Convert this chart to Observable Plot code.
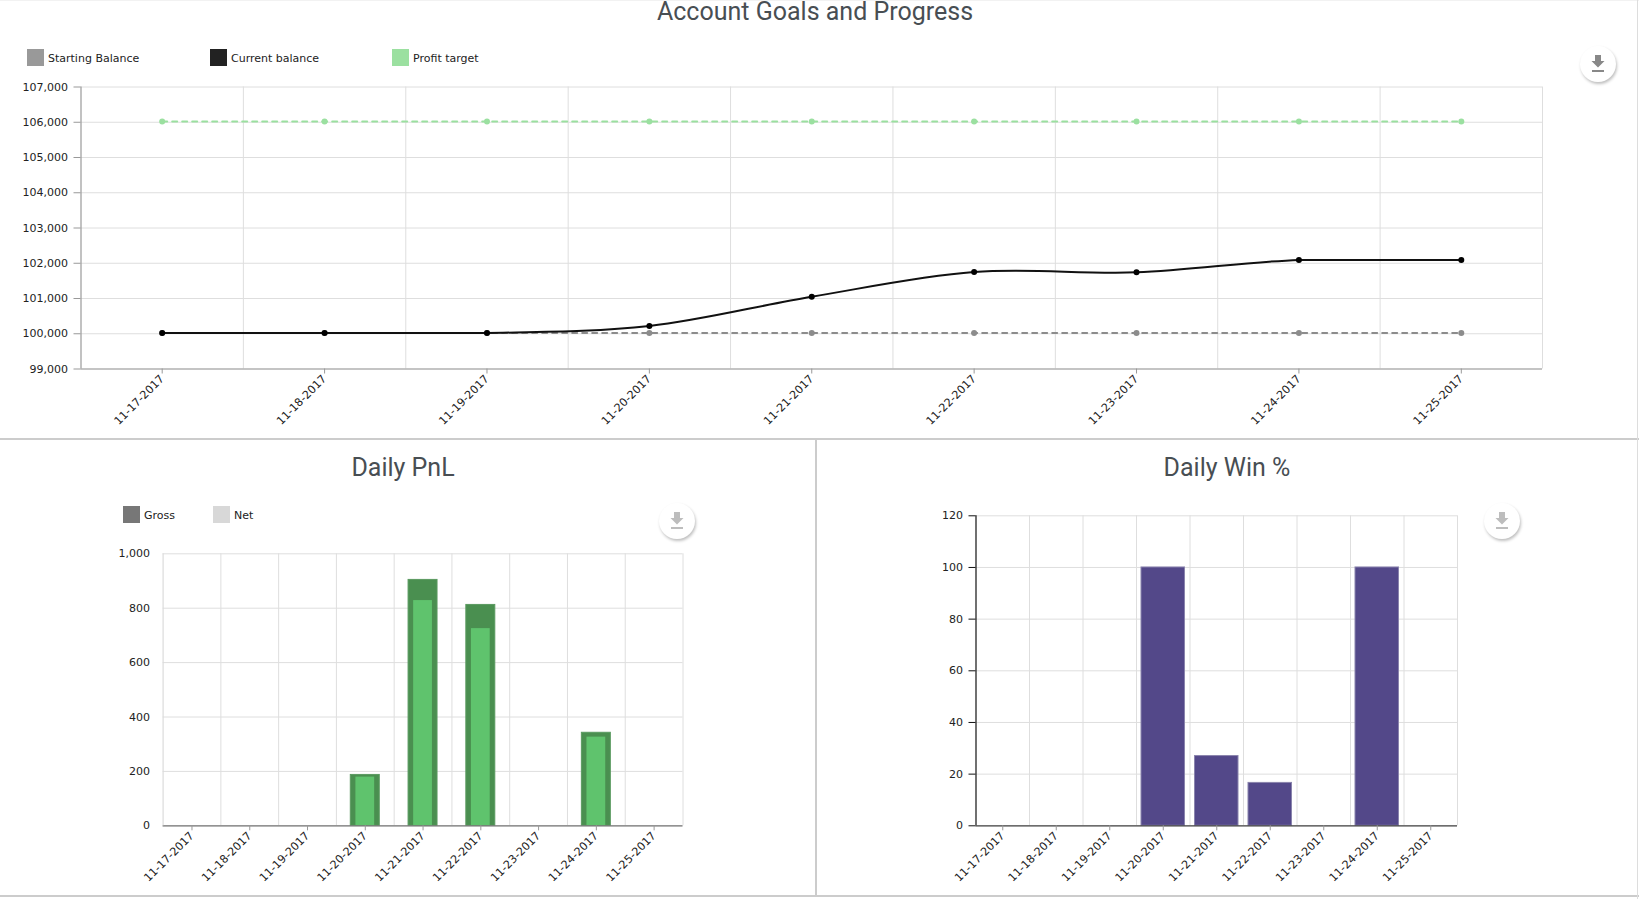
<!DOCTYPE html>
<html>
<head>
<meta charset="utf-8">
<script src="https://cdn.jsdelivr.net/npm/d3@7"></script>
<script src="https://cdn.jsdelivr.net/npm/@observablehq/plot@0.6"></script>
<style>
html,body{margin:0;padding:0;background:#fff;overflow:hidden}
#wrap{position:relative;width:1639px;height:899px;overflow:hidden;background:#fff}
.panel{position:absolute}
.panel svg{display:block;background:transparent;overflow:visible}
.title{position:absolute;font-family:Roboto,sans-serif;font-size:25px;line-height:25px;font-weight:400;color:#484e53;transform:translate(-50%,-50%);white-space:nowrap}
.legend{position:absolute;font-family:"DejaVu Sans",sans-serif;font-size:11px;color:#222;line-height:17px;white-space:nowrap}
.legend i{position:absolute;left:0;top:0;width:17px;height:17px}
.legend span{position:absolute;left:21px;top:0.5px}
.sep{position:absolute;background:#ccc}
.btn{position:absolute;width:36px;height:36px;border-radius:50%;background:#fff;box-shadow:1px 2px 3px rgba(0,0,0,.25);transform:translate(-50%,-50%)}
.btn svg{position:absolute;left:10px;top:9px;width:16px;height:18px}
</style>
</head>
<body>
<div id="wrap"></div>
<script>
const dates = ["11-17-2017","11-18-2017","11-19-2017","11-20-2017","11-21-2017","11-22-2017","11-23-2017","11-24-2017","11-25-2017"];
const startingBalance = [100000,100000,100000,100000,100000,100000,100000,100000,100000];
const currentBalance = [100000,100000,100000,100200,101030,101731,101722,102075,102075];
const profitTarget = [106000,106000,106000,106000,106000,106000,106000,106000,106000];
const gross = [0,0,0,187,904,812,0,342,0];
const net = [0,0,0,179,828,725,0,326,0];
const winPct = [0,0,0,100,27,16.6,0,100,0];

const wrap = document.getElementById("wrap");
const font = '"DejaVu Sans",sans-serif';

// amCharts-style smoothing: Catmull-Rom, straight where a segment is level
function smooth(context){
  let pts;
  return {
    lineStart(){pts=[];},
    point(x,y){pts.push([+x,+y]);},
    lineEnd(){
      pts.forEach((p,i)=>{
        if(i===0){context.moveTo(p[0],p[1]);return;}
        const a=pts[Math.max(i-2,0)],b=pts[i-1],c=p,d=pts[Math.min(i+1,pts.length-1)];
        if(Math.abs(b[1]-c[1])<0.01){context.lineTo(c[0],c[1]);return;}
        context.bezierCurveTo(b[0]+(c[0]-a[0])/6,b[1]+(c[1]-a[1])/6,c[0]-(d[0]-b[0])/6,c[1]-(d[1]-b[1])/6,c[0],c[1]);
      });
    },
    areaStart(){},areaEnd(){}
  };
}

function chart({width,height,mL,mR,mT,mB,yDomain,yTicks,yFormat,axisColor,yTickColor,bottomColor,tickColor,marks}){
  const step=(width-mL-mR)/dates.length;
  const gridColor="#dedede";
  return Plot.plot({
    width,height,marginLeft:mL,marginRight:mR,marginTop:mT,marginBottom:mB,
    style:{background:"transparent",fontFamily:font,fontSize:"11px",color:"#222"},
    x:{type:"band",domain:dates,padding:0,round:false},
    y:{domain:yDomain,range:[height-mB,mT]},
    marks:[
      Plot.ruleY(yTicks,{y:d=>d,stroke:gridColor,strokeWidth:1}),
      Plot.ruleX(dates,{x:d=>d,dx:step/2,stroke:gridColor,strokeWidth:1}),
      ...marks(step),
      Plot.ruleY([yDomain[0]],{stroke:bottomColor,strokeWidth:1.2}),
      Plot.ruleX([dates[0]],{dx:-step/2,stroke:axisColor,strokeWidth:1.2}),
      Plot.axisY({ticks:yTicks,tickSize:7,tickPadding:6,tickFormat:yFormat,stroke:yTickColor||axisColor,label:null,fontSize:11}),
      Plot.axisX({tickSize:5,tickPadding:3,tickRotate:-45,stroke:tickColor,label:null,fontSize:11.2})
    ]
  });
}

function place(el,left,top){const d=document.createElement("div");d.className="panel";d.style.left=left+"px";d.style.top=top+"px";d.appendChild(el);wrap.appendChild(d);}
function sep(l,t,w,h,c){const d=document.createElement("div");d.className="sep";d.style.cssText=`left:${l}px;top:${t}px;width:${w}px;height:${h}px;`+(c?`background:${c}`:"");wrap.appendChild(d);}
function title(text,cx,cy){const d=document.createElement("div");d.className="title";d.textContent=text;d.style.left=cx+"px";d.style.top=cy+"px";wrap.appendChild(d);}
function legend(text,color,l,t){const d=document.createElement("div");d.className="legend";d.style.left=l+"px";d.style.top=t+"px";const i=document.createElement("i");i.style.background=color;const s=document.createElement("span");s.textContent=text;d.append(i,s);wrap.appendChild(d);}
function button(cx,cy,op){const d=document.createElement("div");d.className="btn";d.style.left=cx+"px";d.style.top=cy+"px";
  d.innerHTML=`<svg viewBox="0 0 16 18" style="opacity:${op}"><path d="M5 0h6v6h3.5L8 12.5 1.500 6H5z" fill="#888"/><rect x="2" y="15" width="12" height="2" fill="#888"/></svg>`;wrap.appendChild(d);}

// Top chart
const balanceRows = dates.map((d,i)=>({date:d,start:startingBalance[i],current:currentBalance[i],target:profitTarget[i]}));
place(chart({width:1639,height:439,mL:80.5,mR:97,mT:86.5,mB:70.5,
  yDomain:[99000,107000],yTicks:d3.range(99000,107001,1000),yFormat:d3.format(","),
  axisColor:"#999",bottomColor:"#999",tickColor:"#999",
  marks:()=>[
    Plot.line(balanceRows,{x:"date",y:"target",dy:-0.7,stroke:"#9be0a0",strokeWidth:2,strokeDasharray:"5,5"}),
    Plot.dot(balanceRows,{x:"date",y:"target",dy:-0.7,fill:"#9be0a0",r:3}),
    Plot.line(balanceRows,{x:"date",y:"start",dy:-0.7,stroke:"#8c8c8c",strokeWidth:2,strokeDasharray:"5,5"}),
    Plot.dot(balanceRows,{x:"date",y:"start",dy:-0.7,fill:"#8c8c8c",r:3}),
    Plot.line(balanceRows,{x:"date",y:"current",dy:-0.7,stroke:"#111",strokeWidth:2,curve:smooth}),
    Plot.dot(balanceRows,{x:"date",y:"current",dy:-0.7,fill:"#000",r:3})
  ]}),0,0);

// Daily PnL
const pnlRows = dates.map((d,i)=>({date:d,gross:gross[i],net:net[i]}));
place(chart({width:815,height:457,mL:162.6,mR:132.5,mT:113.3,mB:71.7,
  yDomain:[0,1000],yTicks:d3.range(0,1001,200),yFormat:d3.format(","),
  axisColor:"#dcdcdc",yTickColor:"none",bottomColor:"#777",tickColor:"#999",
  marks:()=>[
    Plot.barY(pnlRows,{x:"date",y:"gross",fill:"#4a8f50",stroke:"#5a9a60",strokeWidth:1,insetLeft:14.4,insetRight:14.4}),
    Plot.barY(pnlRows,{x:"date",y:"net",fill:"#5fc36d",insetLeft:19.5,insetRight:19.5})
  ]}),0,440);

// Daily Win %
const winRows = dates.map((d,i)=>({date:d,win:winPct[i]}));
place(chart({width:822,height:457,mL:158.5,mR:182,mT:75.3,mB:71.7,
  yDomain:[0,120],yTicks:d3.range(0,121,20),yFormat:d3.format(","),
  axisColor:"#111",bottomColor:"#444",tickColor:"#999",
  marks:()=>[
    Plot.barY(winRows,{x:"date",y:"win",fill:"#534889",stroke:"#8a84ad",strokeWidth:1,insetLeft:5,insetRight:5})
  ]}),817,440);

// Frame lines
sep(0,0,1639,1,"#f2f2f2");
sep(0,438,1639,2);
sep(815,440,2,456);
sep(0,895,1639,2);
sep(1637,0,1,899,"#ddd");

// Titles
title("Account Goals and Progress",815,10.5);
title("Daily PnL",403,467);
title("Daily Win %",1227,467);

// Legends
legend("Starting Balance","#999999",27,49);
legend("Current balance","#222222",210,49);
legend("Profit target","#9be0a0",392,49);
legend("Gross","#777777",123,506);
legend("Net","#d8d8d8",213,506);

// Download buttons
button(1598,64,1);
button(677,521,0.55);
button(1502,521,0.55);
</script>
</body>
</html>
